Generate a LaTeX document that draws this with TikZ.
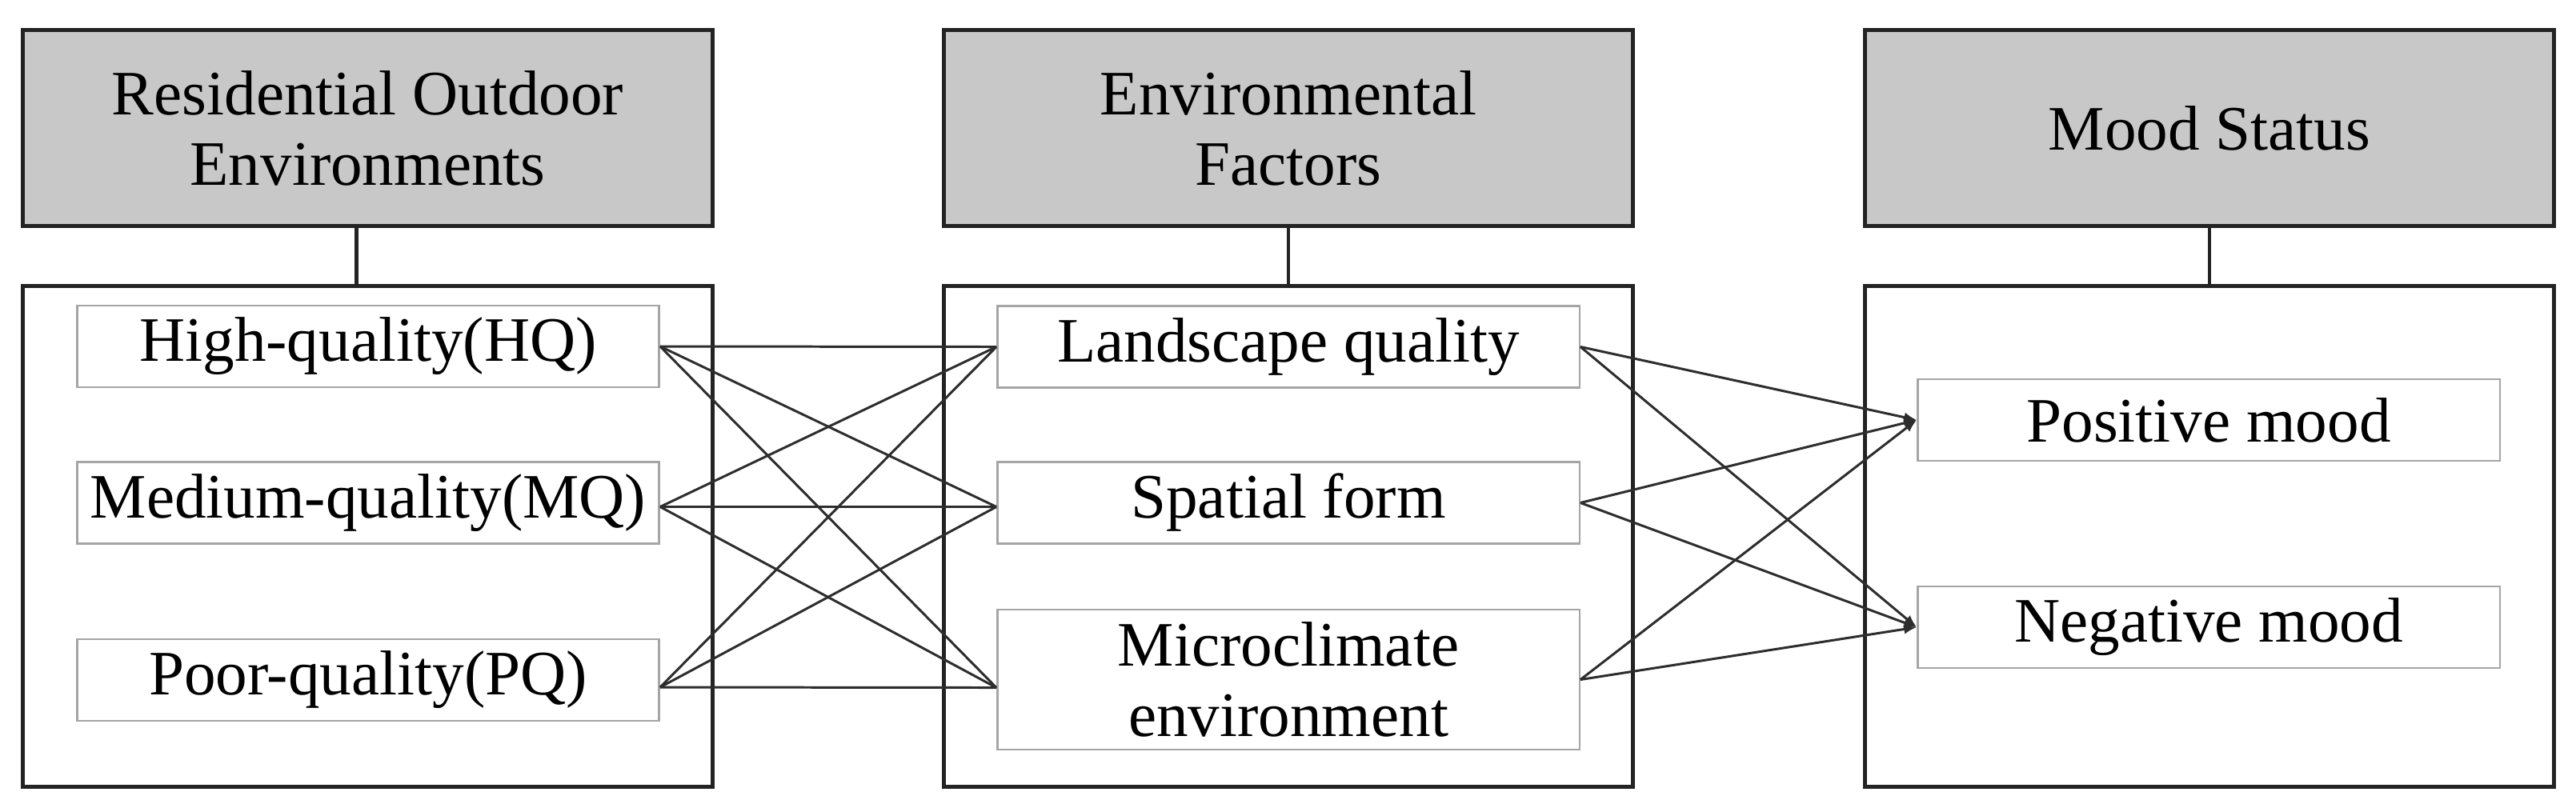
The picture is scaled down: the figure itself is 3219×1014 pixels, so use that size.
\documentclass[tikz,border=0pt]{standalone}
\usepackage{fontspec}
\setmainfont{Liberation Serif}
\usetikzlibrary{arrows.meta}
\definecolor{hdrgray}{RGB}{200,200,200}
\definecolor{edgedark}{RGB}{35,35,35}
\definecolor{itemedge}{RGB}{165,165,165}
\definecolor{wirecol}{RGB}{45,45,45}
\begin{document}
\begin{tikzpicture}[x=0.01cm,y=-0.01cm,
  txt/.style={font=\fontsize{22.5}{25}\selectfont},
  hdr/.style={txt,draw=edgedark,line width=1.4pt,fill=hdrgray,minimum width=8.61cm,minimum height=2.44cm,align=center,inner sep=0pt},
  panel/.style={draw=edgedark,line width=1.4pt,minimum width=8.61cm,minimum height=6.25cm,inner sep=0pt},
  item/.style={txt,draw=itemedge,line width=0.7pt,fill=white,minimum width=7.27cm,minimum height=1.02cm,inner sep=0pt,align=center},
  wire/.style={draw=wirecol,line width=0.85pt},
  arr/.style={wire,-{Latex[length=4.5pt,width=3.5pt]}},
  stem/.style={draw=edgedark,line width=1.2pt}]
\useasboundingbox[fill=white] (0,0) rectangle (3219,1014);
% headers
\node[hdr] (h1) at (459.5,160) {Residential Outdoor\\Environments};
\node[hdr] (h2) at (1610,160) {Environmental\\Factors};
\node[hdr] (h3) at (2761,160) {Mood Status};
% panels
\node[panel] (p1) at (459.5,670.5) {};
\node[panel] (p2) at (1610,670.5) {};
\node[panel] (p3) at (2761,670.5) {};
% stems
\draw[stem] ([xshift=-0.14cm]h1.south) -- ([xshift=-0.14cm]p1.north);
\draw[stem] (h2.south) -- (p2.north);
\draw[stem] (h3.south) -- (p3.north);
% items
\node[item] (hq) at (460,433) {High-quality(HQ)};
\node[item] (mq) at (460,628.5) {Medium-quality(MQ)};
\node[item] (pq) at (460,850) {Poor-quality(PQ)};
\node[item] (lq) at (1610,433.5) {Landscape quality};
\node[item] (sf) at (1610,628.5) {Spatial form};
\node[item,minimum height=1.75cm] (mc) at (1610,849.5) {Microclimate\\environment};
\node[item] (pm) at (2760,525) {Positive mood};
\node[item] (nm) at (2760,784) {Negative mood};
% attachment points
\coordinate (hqE) at (hq.east);
\coordinate (mqE) at ([yshift=-0.05cm]mq.east);
\coordinate (pqE) at ([yshift=-0.09cm]pq.east);
\coordinate (lqW) at (lq.west);
\coordinate (sfW) at ([yshift=-0.05cm]sf.west);
\coordinate (mcW) at ([yshift=-0.1cm]mc.west);
% left to middle
\foreach \a in {hqE,mqE,pqE}{
  \foreach \b in {lqW,sfW,mcW}{
    \draw[wire] (\a) -- (\b);
  }
}
% middle to right
\foreach \a in {lq,sf,mc}{
  \foreach \b in {pm,nm}{
    \draw[arr] (\a.east) -- (\b.west);
  }
}
\end{tikzpicture}
\end{document}
